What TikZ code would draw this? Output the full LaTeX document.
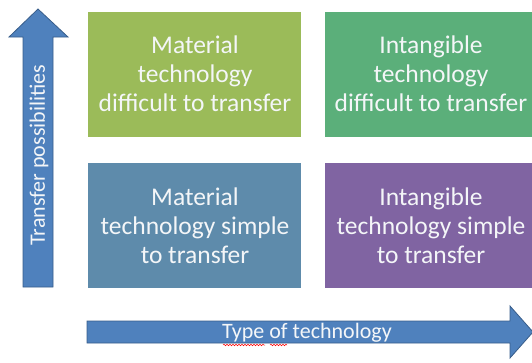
\documentclass[tikz,border=0pt]{standalone}
\usepackage{fontspec}
\setmainfont{Carlito}
\usetikzlibrary{decorations.pathmorphing}
\definecolor{boxolive}{HTML}{9BBB59}
\definecolor{boxgreen}{HTML}{5BAF7A}
\definecolor{boxblue}{HTML}{5E8BAB}
\definecolor{boxpurple}{HTML}{8064A2}
\definecolor{arrowfill}{HTML}{4F81BD}
\definecolor{arrowline}{HTML}{385D8A}
\definecolor{txtwhite}{HTML}{F4F6F8}
\tikzset{
  quadtext/.style={text=txtwhite, align=center, font=\fontsize{25.5}{29}\selectfont, inner sep=0pt},
  bigarrow/.style={fill=arrowfill, draw=arrowline, line width=0.8pt, line join=miter},
  arrowtext/.style={text=txtwhite, font=\fontsize{22}{24}\selectfont, inner sep=0pt}
}
\begin{document}
\begin{tikzpicture}[x=1pt,y=-1pt]
\useasboundingbox (0,0) rectangle (532,362);
% quadrants
\fill[boxolive] (88,12) rectangle (301,137);
\fill[boxgreen] (325,12) rectangle (534,137);
\fill[boxblue] (88,163) rectangle (301,288);
\fill[boxpurple] (325,163) rectangle (534,288);
\node[quadtext] (tl) at (195,74) {Material\\technology\\difficult to transfer};
\node[quadtext] (tr) at (431,74) {Intangible\\technology\\difficult to transfer};
\node[quadtext] (bl) at (195,226) {Material\\technology simple\\to transfer};
\node[quadtext] (br) at (431,226) {Intangible\\technology simple\\to transfer};
% vertical arrow
\draw[bigarrow] (23,287) -- (23,37) -- (9,37) -- (38,9) -- (68,37) -- (53,37) -- (53,287) -- cycle;
\node[arrowtext, rotate=90] (va) at (39,155) {Transfer possibilities};
% horizontal arrow
\draw[bigarrow] (87,321) -- (510,321) -- (510,306) -- (533,332) -- (510,358) -- (510,343) -- (87,343) -- cycle;
\node[arrowtext] (ha) at (307,333) {Type of technology};
\draw[red, line width=0.5pt, decorate, decoration={snake, amplitude=0.8pt, segment length=3pt}] (223,345) -- (265,345);
\draw[red, line width=0.5pt, decorate, decoration={snake, amplitude=0.8pt, segment length=3pt}] (270,345) -- (287,345);
\end{tikzpicture}
\end{document}
